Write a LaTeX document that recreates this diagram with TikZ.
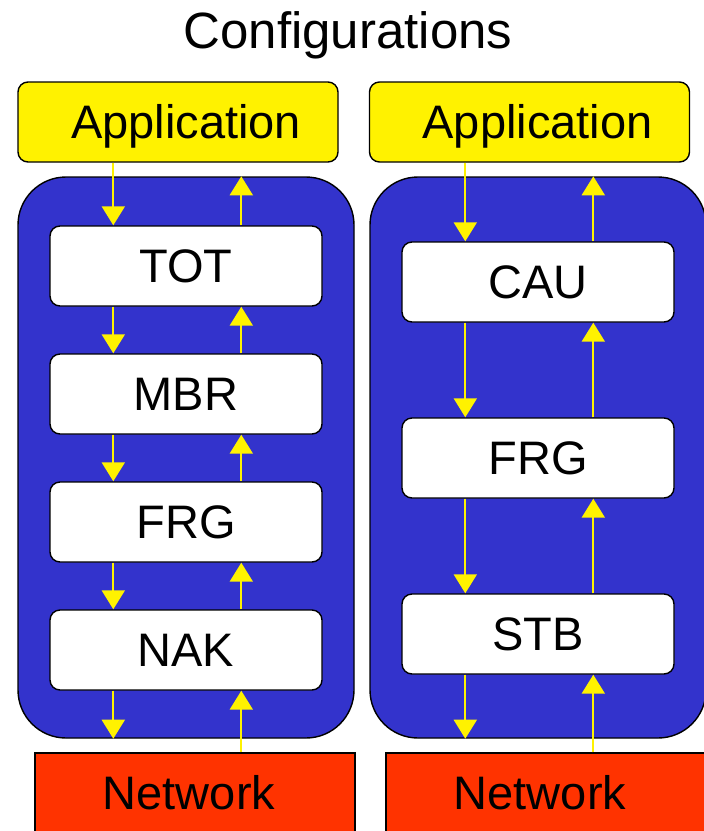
\documentclass[tikz,border=0pt]{standalone}
\usepackage{fontspec}
\setmainfont{Liberation Sans}
\usetikzlibrary{arrows.meta, positioning}
\definecolor{stackblue}{HTML}{3333CC}
\definecolor{netred}{HTML}{FF3300}

\begin{document}
\begin{tikzpicture}[x=1pt, y=-1pt,
    big/.style={font=\fontsize{47}{56}\selectfont, text height=33.7pt, text depth=0pt},
    layer/.style={big, draw, line width=1.4pt, fill=white, rounded corners=10pt,
      minimum width=272pt, minimum height=80pt, inner sep=0pt},
    app/.style={big, draw, line width=1.4pt, fill=yellow, rounded corners=10pt,
      minimum width=320pt, minimum height=80pt, inner sep=0pt},
    net/.style={big, draw, line width=1.4pt, fill=netred,
      minimum width=320pt, minimum height=80pt, inner sep=0pt},
    stack/.style={draw, line width=1.4pt, fill=stackblue, rounded corners=48pt,
      minimum width=336pt, minimum height=561pt, inner sep=0pt},
    flow/.style={draw=yellow, line width=2.2pt, -{Triangle[width=23pt, length=19pt]}}]
  \path[use as bounding box, clip] (0,0) rectangle (704,831);

  \node[anchor=base, font=\fontsize{51}{60}\selectfont] (title) at (348,48) {Configurations};

  % left configuration
  \node[app] (appL) at (178,122) {\hspace*{16pt}Application};
  \node[stack] (stackL) at (186,457.5) {};
  \node[layer] (tot) at (186,266) {TOT};
  \node[layer, below=46.6pt of tot] (mbr) {MBR};
  \node[layer, below=46.6pt of mbr] (frgL) {FRG};
  \node[layer, below=46.6pt of frgL] (nak) {NAK};
  \node[net] (netL) at (195,793) {Network\hspace*{12pt}};

  % right configuration
  \node[app] (appR) at (529.5,122) {\hspace*{16pt}Application};
  \node[stack] (stackR) at (538,457.5) {};
  \node[layer] (cau) at (538,282) {CAU};
  \node[layer, below=94.6pt of cau] (frgR) {FRG};
  \node[layer, below=94.6pt of frgR] (stb) {STB};
  \node[net] (netR) at (546,793) {Network\hspace*{12pt}};

  % data flow
  \foreach \up/\first/\st in {appL/tot/stackL, appR/cau/stackR} {
    \draw[flow] ([xshift=64pt]\first.north west |- \up.south) -- ([xshift=64pt]\first.north west);
    \draw[flow] ([xshift=192pt]\first.north west) -- ([xshift=192pt]\first.north west |- \st.north);
  }
  \foreach \a/\b in {tot/mbr, mbr/frgL, frgL/nak, cau/frgR, frgR/stb} {
    \draw[flow] ([xshift=64pt]\a.south west) -- ([xshift=64pt]\b.north west);
    \draw[flow] ([xshift=192pt]\b.north west) -- ([xshift=192pt]\a.south west);
  }
  \foreach \last/\st/\down in {nak/stackL/netL, stb/stackR/netR} {
    \draw[flow] ([xshift=64pt]\last.south west) -- ([xshift=64pt]\last.south west |- \st.south);
    \draw[flow] ([xshift=192pt]\last.south west |- \down.north) -- ([xshift=192pt]\last.south west);
  }
\end{tikzpicture}
\end{document}
